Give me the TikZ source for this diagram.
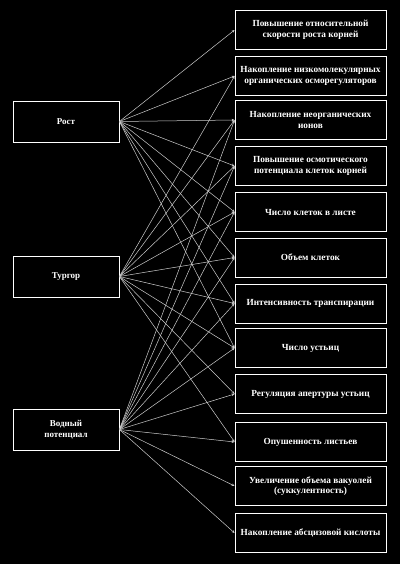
\documentclass[tikz,border=0pt]{standalone}
\usepackage{fontspec}
\setmainfont{Liberation Serif}
\usetikzlibrary{arrows.meta}
\begin{document}
\begin{tikzpicture}[x=1pt,y=-1pt,
  rbox/.style={draw=white, line width=0.8pt, text=white, minimum width=151pt, minimum height=39pt, align=center, font=\bfseries\fontsize{9.3}{10.5}\selectfont, inner sep=1pt},
  lbox/.style={draw=white, line width=0.8pt, text=white, minimum width=106pt, minimum height=41pt, align=center, font=\bfseries\fontsize{9}{10.5}\selectfont},
  conn/.style={draw=white!80!black, line width=0.5pt, -{Stealth[length=3pt,width=2.5pt]}}]
\fill[black] (0,0) rectangle (400,564);
\useasboundingbox (0,0) rectangle (400,564);
\node[lbox] (L1) at (66,121.5) {Рост};
\node[lbox] (L2) at (66,276.5) {Тургор};
\node[lbox] (L3) at (66,429.5) {Водный\\потенциал};
\node[rbox] (R1) at (310.5,30) {Повышение относительной\\скорости роста корней};
\node[rbox] (R2) at (310.5,76) {Накопление низкомолекулярных\\органических осморегуляторов};
\node[rbox] (R3) at (310.5,120) {Накопление неорганических\\ионов};
\node[rbox] (R4) at (310.5,166) {Повышение осмотического\\потенциала клеток корней};
\node[rbox] (R5) at (310.5,212) {Число клеток в листе};
\node[rbox] (R6) at (310.5,257.5) {Объем клеток};
\node[rbox] (R7) at (310.5,303.5) {Интенсивность транспирации};
\node[rbox] (R8) at (310.5,348) {Число устьиц};
\node[rbox] (R9) at (310.5,394) {Регуляция апертуры устьиц};
\node[rbox] (R10) at (310.5,442) {Опушенность листьев};
\node[rbox] (R11) at (310.5,486) {Увеличение объема вакуолей\\(суккулентность)};
\node[rbox] (R12) at (310.5,533) {Накопление абсцизовой кислоты};
\foreach \r in {1,2,3,4,5,6,7,8} \draw[conn] (L1.east) -- (R\r.west);
\foreach \r in {2,3,4,5,6,7,8,9,10} \draw[conn] (L2.east) -- (R\r.west);
\foreach \r in {3,4,5,6,7,8,9,10,11,12} \draw[conn] (L3.east) -- (R\r.west);
\end{tikzpicture}
\end{document}
